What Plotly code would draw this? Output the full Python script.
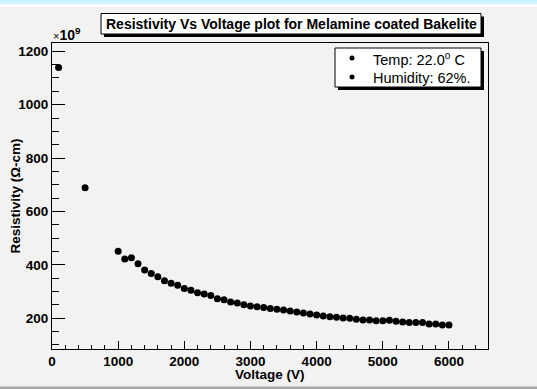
import plotly.graph_objects as go

# Measured resistivity of melamine-coated Bakelite versus applied voltage
voltage_v = [100, 500,
             1000, 1100, 1200, 1300, 1400, 1500, 1600, 1700, 1800, 1900,
             2000, 2100, 2200, 2300, 2400, 2500, 2600, 2700, 2800, 2900,
             3000, 3100, 3200, 3300, 3400, 3500, 3600, 3700, 3800, 3900,
             4000, 4100, 4200, 4300, 4400, 4500, 4600, 4700, 4800, 4900,
             5000, 5100, 5200, 5300, 5400, 5500, 5600, 5700, 5800, 5900,
             6000]
# resistivity in units of 1e9 ohm-cm
resistivity_e9 = [1139, 689,
                  451, 422, 427, 404, 381, 368, 356, 341, 331, 324,
                  312, 305, 296, 291, 285, 273, 269, 261, 257, 251,
                  246, 243, 240, 237, 234, 231, 227, 224, 220, 216,
                  212, 209, 206, 204, 201, 200, 196, 194, 194, 191,
                  191, 193, 189, 186, 184, 184, 184, 179, 179, 175,
                  175]

legend_lines = ["Temp: 22.0<sup>o</sup> C", "Humidity: 62%."]
title_text = "Resistivity Vs Voltage plot for Melamine coated Bakelite"

W, H = 537, 389
L, R, T, B = 52, 488, 43, 349  # frame edges in pixels

FONT = "Liberation Sans, Arial, Helvetica, sans-serif"
BG = "#f2f2f2"


def px_x(p):
    return (p - L) / (R - L)


def px_y(p):
    return (B - p) / (B - T)


fig = go.Figure()
fig.add_trace(go.Scatter(
    x=voltage_v, y=resistivity_e9, mode="markers",
    marker=dict(symbol="circle", size=7, color="black"),
    showlegend=False, cliponaxis=False,
))

axis_common = dict(
    showline=True, linecolor="black", linewidth=1, mirror=True,
    showgrid=False, zeroline=False, ticks="inside", tickcolor="black",
    tickwidth=1, tickfont=dict(family=FONT, size=13.5, color="black", weight="bold"),
)

fig.update_xaxes(range=[0, 6590], dtick=1000, tick0=0, ticklen=8,
                 minor=dict(ticks="inside", dtick=200, ticklen=4, tickcolor="black"),
                 **axis_common)
fig.update_yaxes(range=[85, 1231], dtick=200, tick0=0, ticklen=13,
                 minor=dict(ticks="inside", dtick=50, ticklen=7, tickcolor="black"),
                 **axis_common)

shapes = []
# window bands at top and bottom
shapes.append(dict(type="rect", xref="paper", yref="paper", x0=px_x(-5), x1=px_x(W + 5),
                   y0=px_y(0), y1=px_y(4.5), fillcolor="#cdf2ff", line=dict(width=0), layer="below"))
shapes.append(dict(type="rect", xref="paper", yref="paper", x0=px_x(-5), x1=px_x(W + 5),
                   y0=px_y(4.5), y1=px_y(6.5), fillcolor="#ffffff", line=dict(width=0), layer="below"))
shapes.append(dict(type="rect", xref="paper", yref="paper", x0=px_x(-5), x1=px_x(W + 5),
                   y0=px_y(386.5), y1=px_y(H + 5), fillcolor="#a9a9a9", line=dict(width=0), layer="below"))


def shadow_box(x0, y0, x1, y1, off=3):
    shapes.append(dict(type="rect", xref="paper", yref="paper",
                       x0=px_x(x0 + off), x1=px_x(x1 + off), y0=px_y(y0 + off), y1=px_y(y1 + off),
                       fillcolor="black", line=dict(width=0)))
    shapes.append(dict(type="rect", xref="paper", yref="paper",
                       x0=px_x(x0), x1=px_x(x1), y0=px_y(y0), y1=px_y(y1),
                       fillcolor="white", line=dict(color="black", width=1)))


# title box and legend box
shadow_box(101, 13.5, 481, 34)
shadow_box(335, 48, 481, 87)

# legend markers
for yy in (58, 77):
    shapes.append(dict(type="circle", xref="paper", yref="paper",
                       x0=px_x(349.5), x1=px_x(354.5), y0=px_y(yy - 2.5), y1=px_y(yy + 2.5),
                       fillcolor="black", line=dict(width=0)))

annotations = [
    dict(text="<b>" + title_text + "</b>", x=px_x(291.5), y=px_y(24), xref="paper", yref="paper",
         showarrow=False, xanchor="center", yanchor="middle",
         font=dict(family=FONT, size=14, color="black")),
    dict(text=legend_lines[0], x=px_x(371), y=px_y(58.5), xref="paper", yref="paper",
         showarrow=False, xanchor="left", yanchor="middle",
         font=dict(family=FONT, size=14.5, color="black")),
    dict(text=legend_lines[1], x=px_x(371), y=px_y(77.5), xref="paper", yref="paper",
         showarrow=False, xanchor="left", yanchor="middle",
         font=dict(family=FONT, size=14.5, color="black")),
    dict(text="<span style='font-size:11px'>×</span><b>10<sup>9</sup></b>",
         x=px_x(51), y=px_y(34), xref="paper", yref="paper",
         showarrow=False, xanchor="left", yanchor="middle",
         font=dict(family=FONT, size=14, color="black")),
    dict(text="<b>Voltage (V)</b>", x=px_x(270), y=px_y(374), xref="paper", yref="paper",
         showarrow=False, xanchor="center", yanchor="middle",
         font=dict(family=FONT, size=13.5, color="black")),
    dict(text="<b>Resistivity (Ω-cm)</b>", x=px_x(14.5), y=px_y(196), xref="paper", yref="paper",
         showarrow=False, xanchor="center", yanchor="middle", textangle=-90,
         font=dict(family=FONT, size=13.5, color="black")),
]

fig.update_layout(
    width=W, height=H, autosize=False,
    margin=dict(l=L, r=W - R, t=T, b=H - B, pad=0),
    paper_bgcolor=BG, plot_bgcolor=BG,
    shapes=shapes, annotations=annotations,
    showlegend=False,
)

fig.write_html("out.html")
